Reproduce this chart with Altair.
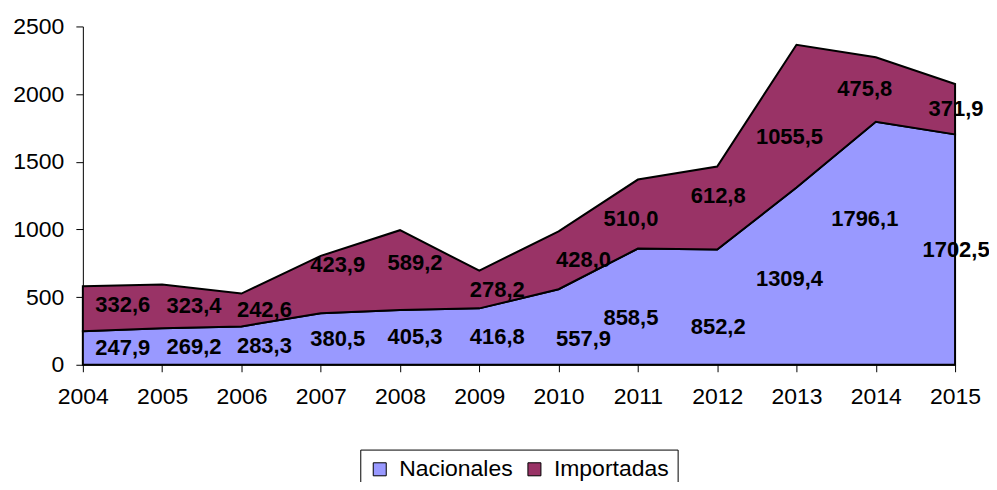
import altair as alt
import pandas as pd

years = [2004, 2005, 2006, 2007, 2008, 2009, 2010, 2011, 2012, 2013, 2014, 2015]
nacionales = [247.9, 269.2, 283.3, 380.5, 405.3, 416.8, 557.9, 858.5, 852.2, 1309.4, 1796.1, 1702.5]
importadas = [332.6, 323.4, 242.6, 423.9, 589.2, 278.2, 428.0, 510.0, 612.8, 1055.5, 475.8, 371.9]
series = ["Nacionales", "Importadas"]
colors = ["#9999FF", "#993366"]

rows = []
for y, n, i in zip(years, nacionales, importadas):
    rows.append({"year": y, "serie": "Nacionales", "ord": 0, "value": n,
                 "mid": n / 2, "label": f"{n:.1f}".replace(".", ",")})
    rows.append({"year": y, "serie": "Importadas", "ord": 1, "value": i,
                 "mid": n + i / 2, "label": f"{i:.1f}".replace(".", ",")})
df = pd.DataFrame(rows)

FONT = "Liberation Sans"

# label nudges (pixels) imitating the spreadsheet's label placement
label_dx = {2004: 40, 2005: 32, 2006: 23, 2007: 17, 2008: 15, 2009: 18, 2010: 25,
            2011: -7, 2012: 1, 2013: -7, 2014: -11, 2015: 1}
label_dy = {("Nacionales", 2010): 12, ("Nacionales", 2011): 11, ("Nacionales", 2012): 20,
            ("Nacionales", 2013): 3, ("Nacionales", 2014): -24,
            ("Importadas", 2004): -4, ("Importadas", 2007): -20, ("Importadas", 2008): -7,
            ("Importadas", 2011): 5, ("Importadas", 2012): -12, ("Importadas", 2013): 21}

x_enc = alt.X("year:Q", scale=alt.Scale(domain=[2004, 2015], nice=False, zero=False),
              axis=alt.Axis(values=years, format="d", title=None, grid=False,
                            tickSize=7, labelPadding=14, labelFontSize=23,
                            labelFont=FONT, labelColor="black", domainColor="black",
                            tickColor="black", labelFlush=False))

area = alt.Chart(df).mark_area(stroke="black", strokeWidth=2).encode(
    x=x_enc,
    y=alt.Y("value:Q", stack="zero",
            scale=alt.Scale(domain=[0, 2500], nice=False),
            axis=alt.Axis(values=[0, 500, 1000, 1500, 2000, 2500], format="d", title=None,
                          grid=False, tickSize=7, labelPadding=12, labelFontSize=23,
                          labelFont=FONT, labelColor="black", domainColor="black",
                          tickColor="black")),
    color=alt.Color("serie:N", scale=alt.Scale(domain=series, range=colors),
                    legend=alt.Legend(title=None, orient="none", legendX=278, legendY=424,
                                      direction="horizontal", strokeColor="black",
                                      padding=8, symbolType="square", symbolSize=170,
                                      symbolStrokeColor="black", symbolStrokeWidth=1,
                                      labelFontSize=23, labelFont=FONT, labelColor="black",
                                      labelOffset=8, columnPadding=10)),
    order=alt.Order("ord:Q"),
)

layers = [area]
for s in series:
    for y in years:
        layers.append(
            alt.Chart(df).transform_filter(
                f"datum.year == {y} && datum.serie == '{s}'"
            ).mark_text(
                fontSize=22, fontWeight="bold", font=FONT, color="black",
                align="center", baseline="middle",
                dx=label_dx[y], dy=label_dy.get((s, y), 0)
            ).encode(x="year:Q", y="mid:Q", text="label:N")
        )

chart = alt.layer(*layers).properties(
    width=874, height=339,
    autosize=alt.AutoSizeParams(type="none"),
    padding={"left": 75, "top": 18, "right": 34, "bottom": 117},
).configure_view(stroke=None)

chart.save("out.html", embed_options={"renderer": "svg", "actions": False})
